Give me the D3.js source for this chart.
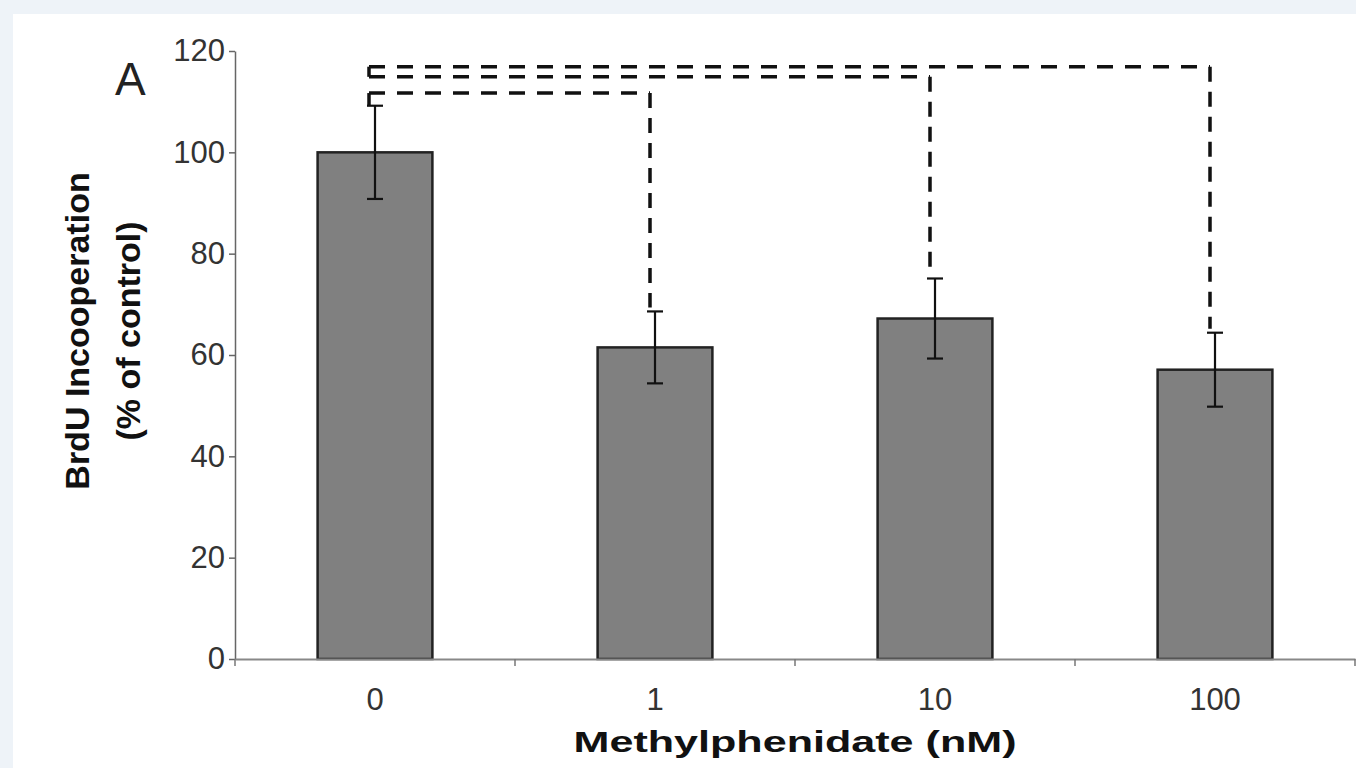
<!DOCTYPE html>
<html>
<head>
<meta charset="utf-8">
<script src="https://cdn.jsdelivr.net/npm/d3@7"></script>
<style>
  html, body { margin: 0; padding: 0; background: #eef3f8; }
  svg { display: block; font-family: "Liberation Sans", Arial, sans-serif; }
</style>
</head>
<body>
<svg id="chart" width="1356" height="768"></svg>
<script>
// chart values
var categories = ["0", "1", "10", "100"];
var means = [100, 61.5, 67.2, 57.1];
var errors = [9.2, 7.1, 7.9, 7.3];
var yTicks = [0, 20, 40, 60, 80, 100, 120];

// significance brackets, control vs each dose
var compareFrom = ["0", "0", "0"];
var compareTo = ["1", "10", "100"];
var bracketLevel = [111.7, 114.9, 116.9];
var bracketBase = [109.2, 114.9, 114.9];

var svg = d3.select("#chart");
var W = 1356, H = 768;

svg.append("rect").attr("width", W).attr("height", H).attr("fill", "#eef3f8");
svg.append("rect").attr("x", 13).attr("y", 14).attr("width", W - 13).attr("height", H - 14).attr("fill", "#fff");

var x = d3.scaleBand()
    .domain(categories)
    .range([235, 1355])
    .paddingInner(0.59)
    .paddingOuter(0.295);

var y = d3.scaleLinear()
    .domain([0, 120])
    .range([659, 51]);

function cx(c) { return x(c) + x.bandwidth() / 2; }

// bars
svg.append("g").selectAll("rect")
  .data(categories)
  .join("rect")
    .attr("x", d => x(d))
    .attr("y", (d, i) => y(means[i]))
    .attr("width", x.bandwidth())
    .attr("height", (d, i) => y(0) - y(means[i]))
    .attr("fill", "#808080")
    .attr("stroke", "#222")
    .attr("stroke-width", 2.5);

// y axis
var yAxis = svg.append("g")
    .attr("transform", "translate(235,0)")
    .call(d3.axisLeft(y).tickValues(yTicks).tickSize(6).tickSizeOuter(0).tickPadding(4));
yAxis.select(".domain").attr("stroke", "#666").attr("stroke-width", 1.5);
yAxis.selectAll(".tick line").attr("stroke", "#666").attr("stroke-width", 1.5);
yAxis.selectAll(".tick text")
    .attr("font-size", 31)
    .attr("fill", "#333")
    .attr("font-family", "Liberation Sans, Arial, sans-serif");

// x axis
var xAxis = svg.append("g")
    .attr("transform", "translate(0," + y(0) + ")")
    .call(d3.axisBottom(x).tickSize(0).tickSizeOuter(0).tickPadding(29));
xAxis.select(".domain").attr("stroke", "#888").attr("stroke-width", 2);
xAxis.selectAll(".tick text")
    .attr("font-size", 31)
    .attr("fill", "#333")
    .attr("font-family", "Liberation Sans, Arial, sans-serif");

// tick marks between categories
var bounds = d3.range(categories.length + 1).map(i => x.range()[0] + i * x.step());
xAxis.selectAll(".bound")
  .data(bounds)
  .join("line")
    .attr("class", "bound")
    .attr("x1", d => d).attr("x2", d => d)
    .attr("y1", 0).attr("y2", 7)
    .attr("stroke", "#777")
    .attr("stroke-width", 1.5);

// error bars
var eb = svg.append("g").attr("stroke", "#111").attr("stroke-width", 2.2);
categories.forEach(function(c, i) {
  var top = y(means[i] + errors[i]);
  var bot = y(means[i] - errors[i]);
  eb.append("line").attr("x1", cx(c)).attr("x2", cx(c)).attr("y1", top).attr("y2", bot);
  eb.append("line").attr("x1", cx(c) - 8).attr("x2", cx(c) + 8).attr("y1", top).attr("y2", top);
  eb.append("line").attr("x1", cx(c) - 8).attr("x2", cx(c) + 8).attr("y1", bot).attr("y2", bot);
});

// dashed significance brackets
var br = svg.append("g").attr("stroke", "#111").attr("stroke-width", 3.5).attr("fill", "none");
compareTo.forEach(function(t, k) {
  var i = categories.indexOf(t);
  var x0 = cx(compareFrom[k]) - 6;
  var x1 = cx(t) - 5;
  var yl = y(bracketLevel[k]);
  if (bracketBase[k] !== bracketLevel[k]) {
    br.append("line").attr("x1", x0).attr("x2", x0)
      .attr("y1", y(bracketBase[k])).attr("y2", yl);
  }
  br.append("line").attr("x1", x0).attr("x2", x1).attr("y1", yl).attr("y2", yl)
    .attr("stroke-dasharray", "16,12");
  br.append("line").attr("x1", x1).attr("x2", x1)
    .attr("y1", yl).attr("y2", y(means[i] + errors[i]) - 4)
    .attr("stroke-dasharray", "15,10");
});

// axis titles
svg.append("text")
    .attr("transform", "translate(89,331) rotate(-90)")
    .attr("text-anchor", "middle")
    .attr("font-size", 34)
    .attr("font-weight", "bold")
    .attr("fill", "#111")
    .text("BrdU Incooperation");
svg.append("text")
    .attr("transform", "translate(140,331) rotate(-90)")
    .attr("text-anchor", "middle")
    .attr("font-size", 34)
    .attr("font-weight", "bold")
    .attr("fill", "#111")
    .text("(% of control)");

svg.append("text")
    .attr("x", 795)
    .attr("y", 752)
    .attr("text-anchor", "middle")
    .attr("font-size", 30)
    .attr("font-weight", "bold")
    .attr("fill", "#111")
    .attr("textLength", 443)
    .attr("lengthAdjust", "spacingAndGlyphs")
    .text("Methylphenidate (nM)");

svg.append("text")
    .attr("x", 115)
    .attr("y", 95)
    .attr("font-size", 46)
    .attr("fill", "#222")
    .text("A");
</script>
</body>
</html>
